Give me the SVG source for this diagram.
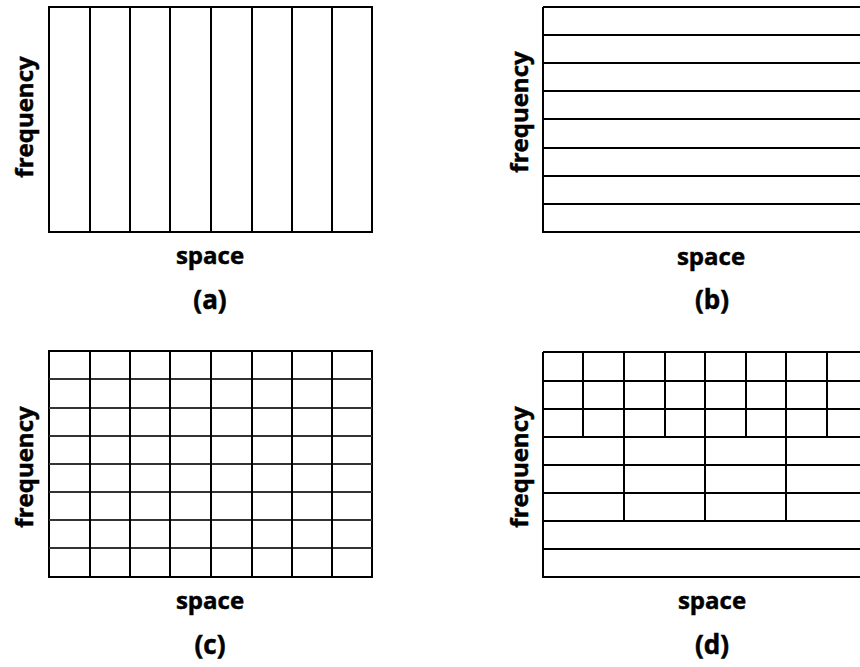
<svg xmlns="http://www.w3.org/2000/svg" width="860" height="667" viewBox="0 0 860 667">
<style>
.ln{stroke:#000;stroke-width:2;fill:none}
.lg{stroke:#333;stroke-width:2.2;fill:none}
.t{font-family:"Open Sans","Liberation Sans",sans-serif;font-weight:bold;font-size:24px;fill:#000;stroke:#000;stroke-width:0.5;text-anchor:middle}
.lb{font-size:26px}
</style>
<rect width="860" height="667" fill="#fff"/>
<g id="panel-a">
<rect class="ln" x="49" y="7" width="323" height="225"/>
<path class="ln" d="M90 7V232M130 7V232M170 7V232M211 7V232M252 7V232M292 7V232M332 7V232"/>
<text class="t" transform="translate(33,117) rotate(-90)">frequency</text>
<text class="t" x="210" y="264">space</text>
<text class="t lb" x="210" y="309">(a)</text>
</g>
<g id="panel-b">
<path class="ln" d="M543 7V232H862M543 7H862"/>
<path class="ln" d="M543 35H862M543 63H862M543 91H862M543 119H862M543 148H862M543 176H862M543 204H862"/>
<text class="t" transform="translate(528,112) rotate(-90)">frequency</text>
<text class="t" x="711" y="265">space</text>
<text class="t lb" x="712" y="309">(b)</text>
</g>
<g id="panel-c">
<rect class="ln" x="49" y="351" width="323" height="226"/>
<path class="lg" d="M49 379H372M49 408H372M49 436H372M49 464H372M49 492H372M49 520H372M49 548H372"/>
<path class="ln" d="M90 351V577M130 351V577M170 351V577M211 351V577M252 351V577M292 351V577M332 351V577"/>
<text class="t" transform="translate(33,467) rotate(-90)">frequency</text>
<text class="t" x="210" y="609">space</text>
<text class="t lb" x="210" y="654">(c)</text>
</g>
<g id="panel-d">
<path class="ln" d="M543 352V577H862M543 352H862"/>
<path class="ln" d="M543 381H862M543 409H862M543 437H862M543 465H862M543 493H862M543 521H862M543 549H862"/>
<path class="ln" d="M583 352V437M665 352V437M746 352V437M827 352V437"/>
<path class="ln" d="M624 352V521M705 352V521M786 352V521"/>
<text class="t" transform="translate(528,467) rotate(-90)">frequency</text>
<text class="t" x="712" y="609">space</text>
<text class="t lb" x="712" y="654">(d)</text>
</g>
</svg>
